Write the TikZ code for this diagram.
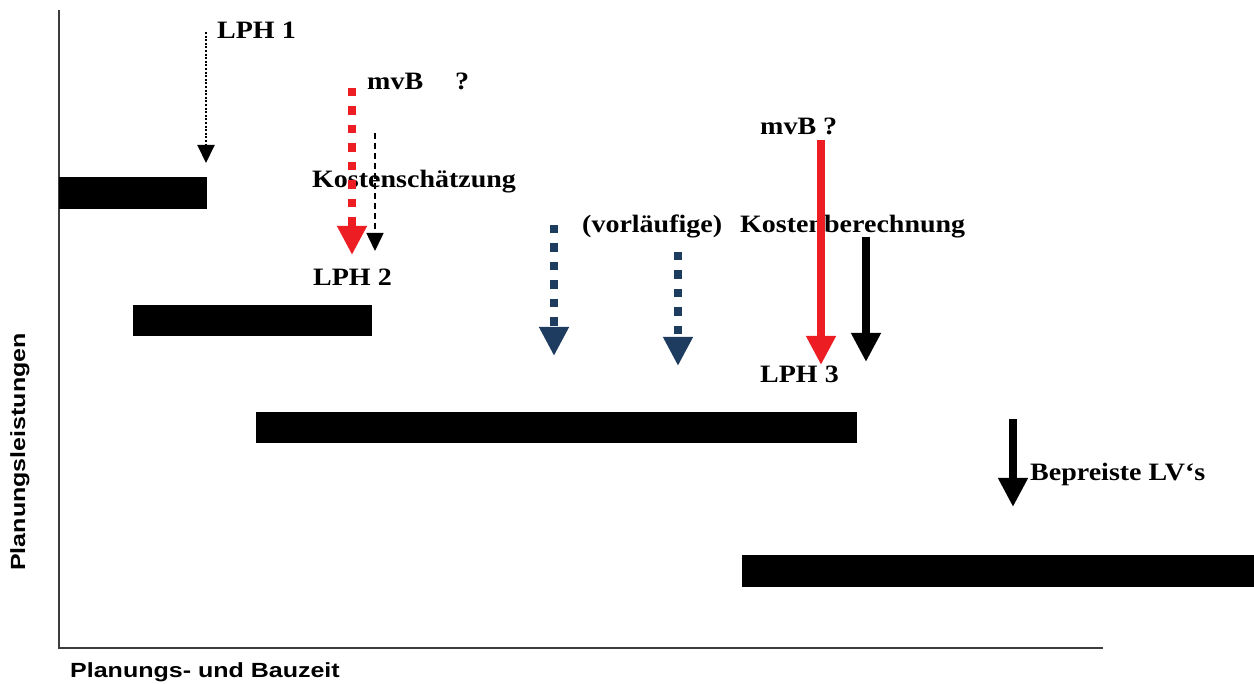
\documentclass[tikz,border=0pt]{standalone}
\usepackage{fontspec}
\setmainfont{Liberation Serif}
\newfontfamily\labelfont{Liberation Serif Bold}[FakeStretch=1.12]
\newfontfamily\axisfont{Liberation Sans Bold}[FakeStretch=1.22]
\usetikzlibrary{arrows.meta}
\definecolor{planred}{RGB}{236,30,36}
\definecolor{planblue}{RGB}{30,60,95}
\definecolor{axisgray}{RGB}{60,60,60}

\begin{document}
\begin{tikzpicture}[x=1pt,y=-1pt,
  bar/.style={fill=black},
  axisline/.style={draw=axisgray,line width=1.8pt},
  lbl/.style={anchor=base west,inner sep=0pt,font=\fontsize{25}{28}\selectfont\labelfont},
  axislbl/.style={inner sep=0pt,font=\fontsize{20.5}{23}\selectfont\axisfont},
  bigtip/.style={-{Triangle[length=29pt,width=28pt]}},
  smalltip/.style={-{Triangle[length=18pt,width=17pt]}},
  thickarrow/.style={bigtip,line width=8pt},
  squaredash/.style={thickarrow,dash pattern=on 8.5pt off 10pt},
  thinarrow/.style={smalltip,line width=1.5pt}
]
\useasboundingbox (0,0) rectangle (1254,684);

% axes
\coordinate (top) at (59,10);
\coordinate (origin) at (59,648);
\coordinate (right) at (1103,648);
\draw[axisline] (top) -- (origin) -- (right);
\node[axislbl,anchor=base west] (xlabel) at (70,677) {Planungs- und Bauzeit};
\node[axislbl,anchor=base,rotate=90] (ylabel) at (25,452) {Planungsleistungen};

% phase bars
\fill[bar] (59,177) rectangle (207,209);
\fill[bar] (133,305) rectangle (372,336);
\fill[bar] (256,412) rectangle (857,443);
\fill[bar] (742,555) rectangle (1254,587);

% labels
\node[lbl] (lph1) at (217,39) {LPH 1};
\node[lbl] (mvb1) at (367,90) {mvB\hspace{32pt}?};
\node[lbl] (ks) at (312,188) {Kostenschätzung};
\node[lbl] (lph2) at (313,286) {LPH 2};
\node[lbl] (kb) at (582,233) {(vorläufige)\hspace{11pt} Kostenberechnung};
\node[lbl] (mvb2) at (760,135) {mvB ?};
\node[lbl] (lph3) at (760,383) {LPH 3};
\node[lbl] (lv) at (1030,481) {Bepreiste LV‘s};

% arrows
\coordinate (a1s) at (206,32);   \coordinate (a1e) at (206,163);
\draw[thinarrow,line width=2pt,dash pattern=on 2pt off 1.6pt] (a1s) -- (a1e);

\coordinate (a2s) at (352,88);   \coordinate (a2e) at (352,255);
\draw[squaredash,planred] (a2s) -- (a2e);

\coordinate (a3s) at (375,133);  \coordinate (a3e) at (375,251);
\draw[thinarrow,dash pattern=on 6pt off 4pt] (a3s) -- (a3e);

\coordinate (b1s) at (554,225);  \coordinate (b1e) at (554,356);
\draw[squaredash,planblue] (b1s) -- (b1e);
\coordinate (b2s) at (678,252);  \coordinate (b2e) at (678,366);
\draw[squaredash,planblue] (b2s) -- (b2e);

\coordinate (r2s) at (821,140);  \coordinate (r2e) at (821,365);
\draw[thickarrow,planred] (r2s) -- (r2e);

\coordinate (k2s) at (866,237);  \coordinate (k2e) at (866,362);
\draw[thickarrow] (k2s) -- (k2e);

\coordinate (k3s) at (1013,419); \coordinate (k3e) at (1013,507);
\draw[thickarrow] (k3s) -- (k3e);
\end{tikzpicture}
\end{document}
